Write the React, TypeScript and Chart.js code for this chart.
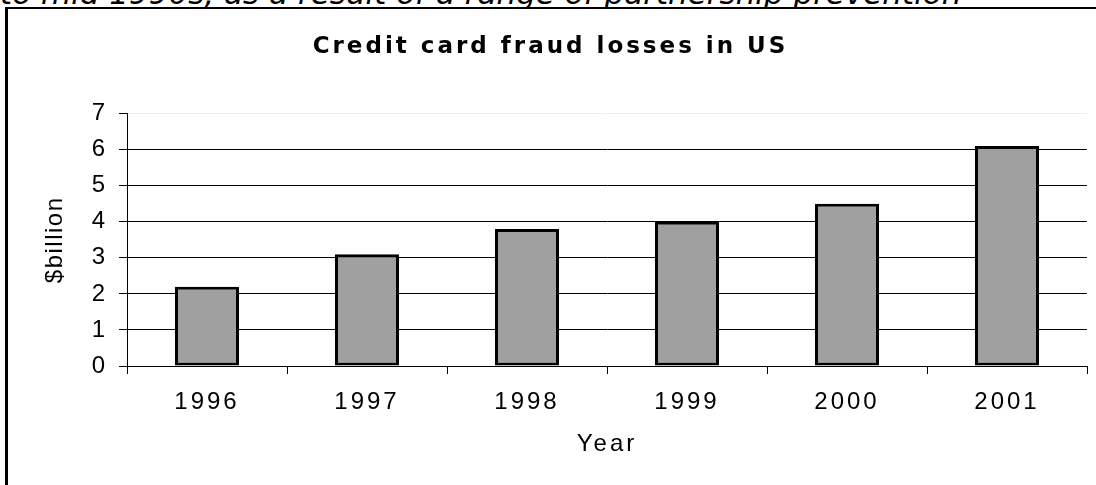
import React, { useEffect, useRef } from "react";
import { Chart, registerables } from "chart.js";

Chart.register(...registerables);

const categories = ["1996", "1997", "1998", "1999", "2000", "2001"];
const lossValues = [2.2, 3.1, 3.8, 4.0, 4.5, 6.1];
const yTicks = [0, 1, 2, 3, 4, 5, 6, 7];
const chartTitle = "Credit card fraud losses in US";
const xTitle = "Year";
const yTitle = "$billion";
const clippedText = "to mid 1990s, as a result of a range of partnership prevention";

const W = 1096;
const H = 485;
const PLOT_LEFT = 127;
const X_AXIS_H = 119;

function wrapSpacing(ctx: CanvasRenderingContext2D, obj: any, method: string, spacing: string, dx = 0) {
  const key = "__orig_" + method;
  if (obj[key]) return;
  const orig = obj[method];
  obj[key] = orig;
  obj[method] = function (...args: any[]) {
    ctx.save();
    (ctx as any).letterSpacing = spacing;
    if (dx) ctx.translate(dx, 0);
    const r = orig.apply(this, args);
    ctx.restore();
    return r;
  };
}

const spacingPlugin = {
  id: "letterSpacing",
  beforeDraw(chart: any) {
    const ctx = chart.ctx;
    ctx.letterSpacing = "0px";
    if (chart.titleBlock) wrapSpacing(ctx, chart.titleBlock, "draw", "3px", 7);
    const x = chart.scales.x;
    const y = chart.scales.y;
    if (x) {
      wrapSpacing(ctx, x, "drawLabels", "3px");
      wrapSpacing(ctx, x, "drawTitle", "3px");
    }
    if (y) {
      wrapSpacing(ctx, y, "drawTitle", "1.5px");
    }
  },
  afterDraw(chart: any) {
    chart.ctx.letterSpacing = "0px";
  },
};

export default function App() {
  const ref = useRef<HTMLCanvasElement | null>(null);

  useEffect(() => {
    if (!ref.current) return;
    const chart = new Chart(ref.current, {
      type: "bar",
      data: {
        labels: categories,
        datasets: [
          {
            data: lossValues,
            backgroundColor: "#a0a0a0",
            borderColor: "#000000",
            borderWidth: 3,
            borderSkipped: false,
            barPercentage: 0.4,
            categoryPercentage: 1,
          },
        ],
      },
      plugins: [spacingPlugin],
      options: {
        responsive: false,
        animation: false,
        devicePixelRatio: 1,
        layout: { padding: { left: 0, right: 9, top: 0, bottom: 0 } },
        plugins: {
          legend: { display: false },
          tooltip: { enabled: false },
          title: {
            display: true,
            text: chartTitle,
            color: "#000",
            font: { family: "'DejaVu Sans'", size: 23, weight: "bold" },
            padding: { top: 33, bottom: 53 },
          },
        },
        scales: {
          x: {
            afterFit(scale: any) {
              scale.height = X_AXIS_H;
            },
            grid: {
              offset: true,
              drawOnChartArea: false,
              drawTicks: true,
              tickLength: 8,
              tickColor: "#000",
              lineWidth: 1,
            },
            border: { display: true, color: "#000", width: 1 },
            ticks: {
              color: "#000",
              font: { family: "'Liberation Sans'", size: 24 },
              padding: 14,
              maxRotation: 0,
            },
            title: {
              display: true,
              text: xTitle,
              color: "#000",
              font: { family: "'Liberation Sans'", size: 24 },
              padding: { top: 0, bottom: 26 },
            },
          },
          y: {
            min: 0,
            max: 7,
            afterFit(scale: any) {
              scale.width = PLOT_LEFT;
            },
            afterBuildTicks(scale: any) {
              scale.ticks = yTicks.map((v) => ({ value: v }));
            },
            grid: {
              color: (c: any) => (c.tick && c.tick.value === 7 ? "#ececec" : "#000"),
              tickColor: "#000",
              tickLength: 8,
              lineWidth: 1,
            },
            border: { display: true, color: "#000", width: 1 },
            ticks: {
              color: "#000",
              font: { family: "'Liberation Sans'", size: 24 },
              padding: 14,
              stepSize: 1,
            },
            title: {
              display: true,
              text: yTitle,
              color: "#000",
              font: { family: "'Liberation Sans'", size: 24 },
              padding: { top: 41, bottom: 0 },
            },
          },
        },
      },
    });
    return () => chart.destroy();
  }, []);

  return (
    <div style={{ position: "relative", width: W, height: H, overflow: "hidden", background: "#fff" }}>
      <style>{`body{margin:0;}`}</style>
      <div
        style={{
          position: "absolute",
          left: 0,
          top: -22,
          whiteSpace: "nowrap",
          fontFamily: "'DejaVu Sans'",
          fontStyle: "italic",
          fontSize: 31,
          lineHeight: "31px",
          color: "#000",
        }}
      >
        {clippedText}
      </div>
      <div
        style={{
          position: "absolute",
          left: 5,
          top: 7,
          width: 2000,
          height: 1000,
          borderLeft: "3px solid #000",
          borderTop: "2px solid #000",
          background: "#fff",
        }}
      />
      <canvas
        ref={ref}
        width={W}
        height={H}
        style={{ position: "absolute", left: 0, top: 0, width: W, height: H }}
      />
    </div>
  );
}
